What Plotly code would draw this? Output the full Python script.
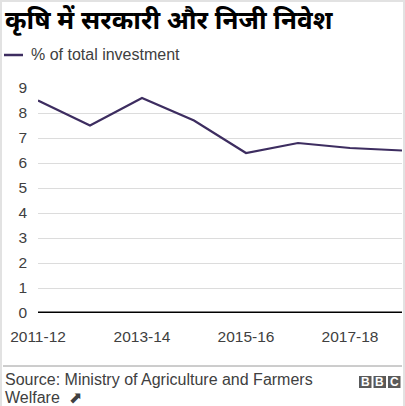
import plotly.graph_objects as go

W, H = 405, 406
L, R, T, B = 38, 3, 88, 93

years = ["2011-12", "2012-13", "2013-14", "2014-15",
         "2015-16", "2016-17", "2017-18", "2018-19"]
share = [8.5, 7.5, 8.6, 7.7, 6.4, 6.8, 6.6, 6.5]
x_ticks = ["2011-12", "2013-14", "2015-16", "2017-18"]
y_ticks = [0, 1, 2, 3, 4, 5, 6, 7, 8, 9]

title = "कृषि में सरकारी और निजी निवेश"
legend_name = "% of total investment"
source_lines = ["Source: Ministry of Agriculture and Farmers", "Welfare  ⬈"]

LINE = "#3d2d60"
TXT = "#404040"
FONT = "Liberation Sans, Arial, sans-serif"


def px(x):
    # pixel -> paper x
    return (x - L) / (W - L - R)


def py(y):
    # pixel (from top) -> paper y
    return (H - B - y) / (H - T - B)


fig = go.Figure()
fig.add_trace(go.Scatter(x=years, y=share, mode="lines", name=legend_name,
                         line=dict(color=LINE, width=2.2), hoverinfo="skip"))

shapes = [
    # legend sample
    dict(type="line", xref="paper", yref="paper", x0=px(4), x1=px(23),
         y0=py(55), y1=py(55), line=dict(color=LINE, width=2.5)),
    # zero line
    dict(type="line", xref="paper", yref="y", x0=0, x1=1, y0=0, y1=0,
         line=dict(color="#000000", width=3)),
    # footer separator
    dict(type="line", xref="paper", yref="paper", x0=px(3), x1=px(402),
         y0=py(366), y1=py(366), line=dict(color="#9a9a9a", width=1)),
    # light frame
    dict(type="rect", xref="paper", yref="paper", x0=px(0), x1=px(2),
         y0=py(406), y1=py(0), line=dict(width=0), fillcolor="#e2e2e2", layer="below"),
    dict(type="rect", xref="paper", yref="paper", x0=px(0), x1=px(405),
         y0=py(2), y1=py(0), line=dict(width=0), fillcolor="#e2e2e2", layer="below"),
    dict(type="rect", xref="paper", yref="paper", x0=px(403), x1=px(405),
         y0=py(406), y1=py(0), line=dict(width=0), fillcolor="#e2e2e2", layer="below"),
]

annotations = [
    dict(text="<b>" + title + "</b>", xref="paper", yref="paper",
         x=px(3), y=py(19), xanchor="left", yanchor="middle", showarrow=False,
         font=dict(size=26, color="#000000", family="Noto Sans, Noto Sans Devanagari, sans-serif")),
    dict(text=legend_name, xref="paper", yref="paper",
         x=px(29), y=py(55), xanchor="left", yanchor="middle", showarrow=False,
         font=dict(size=16, color=TXT, family=FONT)),
]
for i, line in enumerate(source_lines):
    annotations.append(dict(text=line, xref="paper", yref="paper", align="left",
                            x=px(3), y=py(379 + i * 18), xanchor="left", yanchor="middle",
                            showarrow=False, font=dict(size=16, color=TXT, family=FONT)))

# BBC blocks
for i, letter in enumerate("BBC"):
    x0 = 359 + i * 14.5
    shapes.append(dict(type="rect", xref="paper", yref="paper",
                       x0=px(x0), x1=px(x0 + 12.5), y0=py(388), y1=py(376),
                       line=dict(width=0), fillcolor="#5a5a5a"))
    annotations.append(dict(text="<b>" + letter + "</b>", xref="paper", yref="paper",
                            x=px(x0 + 6.25), y=py(382), xanchor="center", yanchor="middle",
                            showarrow=False,
                            font=dict(size=12, color="#ffffff", family=FONT)))

fig.update_layout(
    width=W, height=H,
    margin=dict(l=L, r=R, t=T, b=B),
    paper_bgcolor="#ffffff", plot_bgcolor="#ffffff",
    showlegend=False,
    shapes=shapes, annotations=annotations,
    xaxis=dict(type="category", categoryorder="array", categoryarray=years,
               range=[0, len(years) - 1], tickvals=x_ticks, ticktext=x_ticks,
               showgrid=False, zeroline=False, showline=False, ticks="",
               ticklabelstandoff=12,
               tickfont=dict(size=15.5, color=TXT, family=FONT)),
    yaxis=dict(range=[0, 9], tickvals=y_ticks, showgrid=True, gridcolor="#dcdcdc",
               gridwidth=1, zeroline=False, showline=False, ticks="",
               ticklabelstandoff=10,
               tickfont=dict(size=15.5, color=TXT, family=FONT)),
)

# page has a default 8px body margin; drop it so the figure sits at 0,0
fig.write_html("out.html", config={"displayModeBar": False},
               post_script="document.body.style.margin='0px';")
